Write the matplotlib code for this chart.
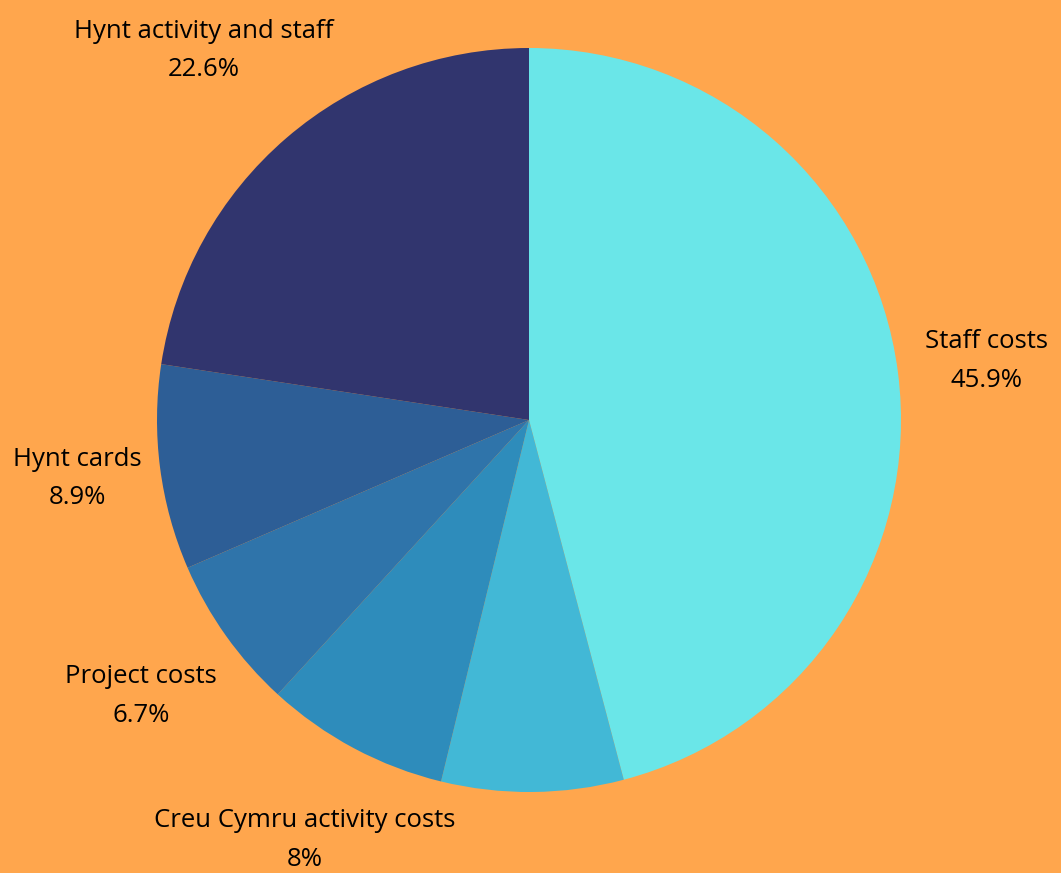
import numpy as np
import matplotlib
matplotlib.use("Agg")
import matplotlib.pyplot as plt

# Budget split (percent), clockwise from 12 o'clock
categories = ["Staff costs", "", "Creu Cymru activity costs", "Project costs",
              "Hynt cards", "Hynt activity and staff"]
values = [45.9, 7.9, 8, 6.7, 8.9, 22.6]
value_labels = ["45.9%", "", "8%", "6.7%", "8.9%", "22.6%"]
colors = ["#6ae6e8", "#42b8d6", "#2e8cbb", "#2f74aa", "#2d5e96", "#31356e"]

bg = "#ffa64d"
plt.rcParams['font.family'] = ['Open Sans', 'DejaVu Sans']

W, H = 1061, 873
fig = plt.figure(figsize=(W / 100, H / 100), dpi=100, facecolor=bg)

# axes placed so the pie centre and radius match the reference
cx, cy, r = 529, 420, 372
ax = fig.add_axes([(cx - r) / W, 1 - (cy + r) / H, 2 * r / W, 2 * r / H])
ax.set_facecolor(bg)

ax.pie(values, colors=colors, startangle=90, counterclock=False, radius=1,
       wedgeprops=dict(linewidth=0))

# labels outside the pie
total = sum(values)
cum = 0
label_dist = [1.24, 0, 1.28, 1.28, 1.225, 1.31]
for name, pct, v, d in zip(categories, value_labels, values, label_dist):
    mid = (cum + v / 2) / total * 2 * np.pi
    cum += v
    if not name:
        continue
    x, y = d * np.sin(mid), d * np.cos(mid)
    if name == "Hynt activity and staff":
        x -= 0.02
    ax.text(x, y, name + "\n" + pct, ha="center", va="center",
            fontsize=18.5, color="#000000", linespacing=1.72, clip_on=False)

ax.set_xlim(-1, 1)
ax.set_ylim(-1, 1)
ax.set_aspect("equal")
ax.axis("off")

fig.savefig("out.png", dpi=100, facecolor=bg)
